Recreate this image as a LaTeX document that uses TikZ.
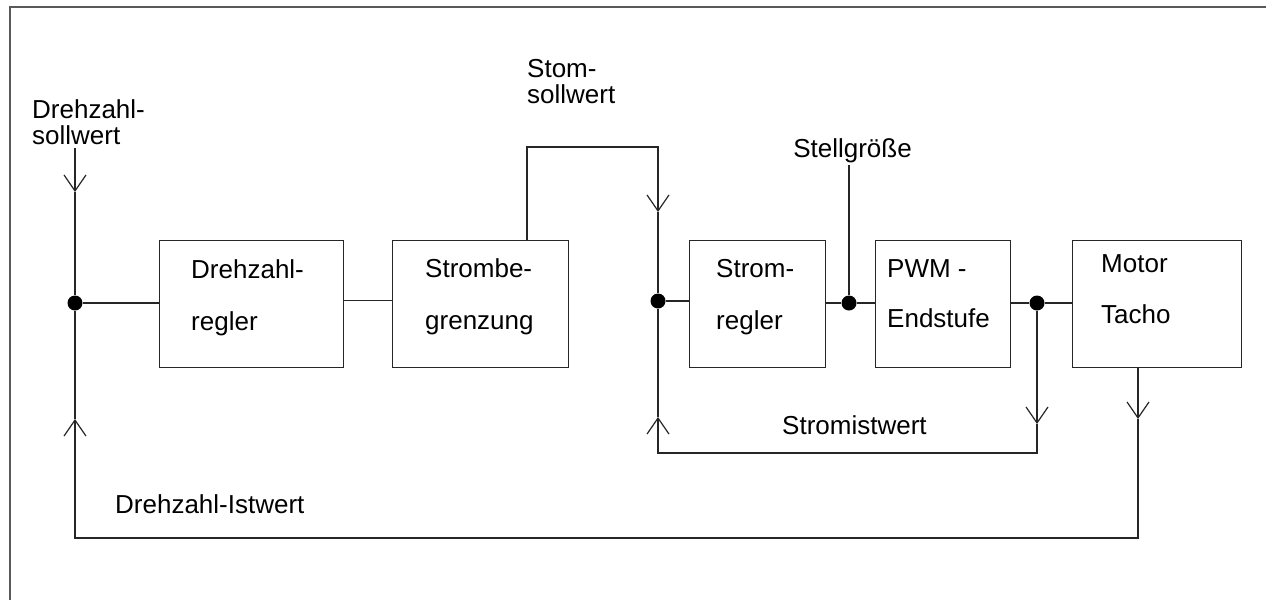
\documentclass[tikz,border=0pt]{standalone}
\usepackage{fontspec}
\setmainfont{Liberation Sans}
\usetikzlibrary{arrows.meta,calc}

\tikzset{
  wire/.style={draw=black!85, line width=1.2pt},
  blockbox/.style={draw=black!85, line width=1.3pt, rectangle, inner sep=0pt, anchor=north west},
  dotnode/.style={circle, fill=black, inner sep=0pt, minimum size=15pt},
  lbl/.style={anchor=base west, inner sep=0pt, font=\fontsize{26}{30}\selectfont},
  lblr/.style={anchor=base east, inner sep=0pt, font=\fontsize{26}{30}\selectfont},
  vtip/.style={-{Straight Barb[length=16pt,width=22pt,line width=1.2pt]}},
}

\begin{document}
\begin{tikzpicture}[x=1pt,y=-1pt]
\useasboundingbox (0,0) rectangle (1266,600);

% sheet frame (top and left edges)
\draw[black!65, line width=1.5pt] (10,600) -- (10,7) -- (1266,7);

% blocks
\node[blockbox, minimum width=184pt, minimum height=127pt] (regN)  at (159,240) {};
\node[blockbox, minimum width=176pt, minimum height=127pt] (begr)  at (392,240) {};
\node[blockbox, minimum width=136pt, minimum height=127pt] (regI)  at (689,240) {};
\node[blockbox, minimum width=135pt, minimum height=127pt] (pwm)   at (875,240) {};
\node[blockbox, minimum width=169pt, minimum height=127pt] (motor) at (1072,240) {};

% block texts
\node[lbl] (tRegN1) at (191,278) {Drehzahl-};
\node[lbl] (tRegN2) at (191,330) {regler};
\node[lbl] (tBeg1)  at (425,277) {Strombe-};
\node[lbl] (tBeg2)  at (425,329) {grenzung};
\node[lbl] (tRegI1) at (716,277) {Strom-};
\node[lbl] (tRegI2) at (716,329) {regler};
\node[lbl] (tPwm1)  at (887,277) {PWM -};
\node[lbl] (tPwm2)  at (887,327) {Endstufe};
\node[lbl] (tMot1)  at (1101,272) {Motor};
\node[lbl] (tMot2)  at (1101,323) {Tacho};

% junction points
\node[dotnode] (j1) at (75,303) {};
\node[dotnode] (j2) at (658,301) {};
\node[dotnode] (j3) at (849,303) {};
\node[dotnode] (j4) at (1037,303) {};

% signal labels
\node[lbl] (lNsoll1) at (32,118) {Drehzahl-};
\node[lbl] (lNsoll2) at (32,144) {sollwert};
\node[lbl] (lIsoll1) at (527,77) {Stom-};
\node[lbl] (lIsoll2) at (527,103) {sollwert};
\node[lblr] (lStell) at (912,157) {Stellgröße};
\node[lbl] (lIist) at (782,434) {Stromistwert};
\node[lbl] (lNist) at (115,513) {Drehzahl-Istwert};

% free ends, corners and arrow positions
\coordinate (nsollTop) at (75,148);
\coordinate (nsollTip) at (75,192);
\coordinate (isollUp)  at (527,147);
\coordinate (isollRt)  at (658,147);
\coordinate (isollTip) at (658,212);
\coordinate (stellTop) at (849,165);
\coordinate (iistTip)  at (1037,424);
\coordinate (iistRt)   at (1037,453);
\coordinate (iistLt)   at (658,453);
\coordinate (iistUp)   at (658,417);
\coordinate (nistTip)  at (1138,419);
\coordinate (nistRt)   at (1138,538);
\coordinate (nistLt)   at (75,538);
\coordinate (nistUp)   at (75,419);

% speed setpoint
\draw[wire, vtip] (nsollTop) -- (nsollTip);
\draw[wire] (nsollTip) -- (j1);
\draw[wire] (j1) -- (j1 -| regN.west);
\draw[wire] ($(regN.east)+(0,-3.5)$) -- ($(begr.west)+(0,-3.5)$);

% current setpoint
\draw[wire] (begr.north -| isollUp) -- (isollUp) -- (isollRt) [vtip] -- (isollTip);
\draw[wire] (isollTip) -- (j2);
\draw[wire] (j2) -- (j2 -| regI.west);
\draw[wire] (regI.east |- j3) -- (j3) -- (j3 -| pwm.west);
\draw[wire] (stellTop) -- (j3);
\draw[wire] (pwm.east |- j4) -- (j4) -- (j4 -| motor.west);

% current feedback loop
\draw[wire, vtip] (j4) -- (iistTip);
\draw[wire, vtip] (iistTip) -- (iistRt) -- (iistLt) -- (iistUp);
\draw[wire] (iistUp) -- (j2);

% speed feedback loop
\draw[wire, vtip] (motor.south -| nistTip) -- (nistTip);
\draw[wire, vtip] (nistTip) -- (nistRt) -- (nistLt) -- (nistUp);
\draw[wire] (nistUp) -- (j1);
\end{tikzpicture}
\end{document}
